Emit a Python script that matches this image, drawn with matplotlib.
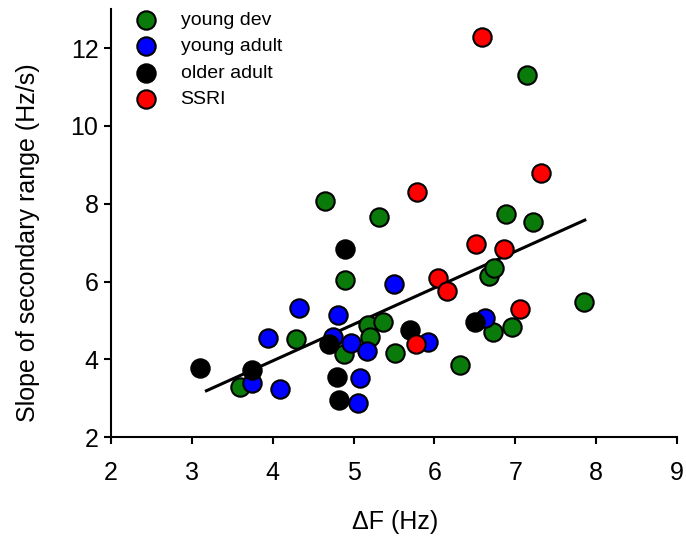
import numpy as np
import matplotlib
matplotlib.use("Agg")
import matplotlib.pyplot as plt

plt.rcParams["font.family"] = ["Liberation Sans", "DejaVu Sans"]

# values
young_dev_x = [3.59, 4.29, 4.65, 4.90, 4.88, 5.18, 5.37, 5.20, 5.31, 5.51,
               6.31, 6.68, 6.74, 6.73, 6.96, 6.89, 7.22, 7.15, 7.85]
young_dev_y = [3.29, 4.51, 8.07, 6.04, 4.13, 4.87, 4.96, 4.56, 7.65, 4.15,
               3.85, 6.14, 6.34, 4.71, 4.84, 7.73, 7.53, 11.31, 5.46]

young_adult_x = [3.74, 4.09, 3.94, 4.33, 4.81, 4.75, 4.97, 5.17, 5.08, 5.06,
                 5.50, 5.92, 6.62]
young_adult_y = [3.38, 3.23, 4.54, 5.31, 5.15, 4.56, 4.41, 4.22, 3.52, 2.88,
                 5.93, 4.45, 5.07]

older_adult_x = [3.10, 3.74, 4.70, 4.80, 4.82, 4.90, 5.70, 6.50]
older_adult_y = [3.77, 3.72, 4.39, 3.55, 2.95, 6.83, 4.75, 4.96]

ssri_x = [5.77, 5.79, 6.05, 6.15, 6.51, 6.86, 7.06, 6.59, 7.32]
ssri_y = [4.38, 8.31, 6.08, 5.76, 6.96, 6.83, 5.29, 12.29, 8.80]

# regression line
fit_x = [3.18, 7.86]
fit_slope = 0.938
fit_intercept = 0.207

groups = [
    ("young dev", young_dev_x, young_dev_y, "#0a7a0a"),
    ("young adult", young_adult_x, young_adult_y, "#0000ff"),
    ("older adult", older_adult_x, older_adult_y, "#000000"),
    ("SSRI", ssri_x, ssri_y, "#ff0000"),
]

fig = plt.figure(figsize=(6.86, 5.40), dpi=100)
ax = fig.add_axes([0.1618, 0.1907, 0.8251, 0.792])

fx = np.array(fit_x)
ax.plot(fx, fit_intercept + fit_slope * fx, color="black", lw=2.2, zorder=1)

for i, (name, xs, ys, col) in enumerate(groups):
    ax.scatter(xs, ys, s=175, c=col, edgecolors="black", linewidths=1.5,
               label=name, zorder=2 + i)

ax.set_xlim(2, 9)
ax.set_ylim(2, 13)
ax.set_xticks(range(2, 10))
ax.set_yticks(range(2, 13, 2))
for s in ["top", "right"]:
    ax.spines[s].set_visible(False)
for s in ["left", "bottom"]:
    ax.spines[s].set_linewidth(1.5)
ax.tick_params(direction="out", length=5, width=1.5, labelsize=18)
ax.tick_params(axis="x", pad=12)
ax.tick_params(axis="y", pad=4)
ax.set_xlabel("ΔF (Hz)", fontsize=18, va="center")
ax.set_ylabel("Slope of secondary range (Hz/s)", fontsize=18, va="center")
ax.xaxis.set_label_coords(0.502, -0.199)
ax.yaxis.set_label_coords(-0.147, 0.4545)

ax.legend(loc="upper left", bbox_to_anchor=(0.013, 1.014), frameon=False,
          fontsize=14, handletextpad=0.8, labelspacing=0.46,
          borderaxespad=0, scatterpoints=1)

fig.savefig("out.png", dpi=100)
